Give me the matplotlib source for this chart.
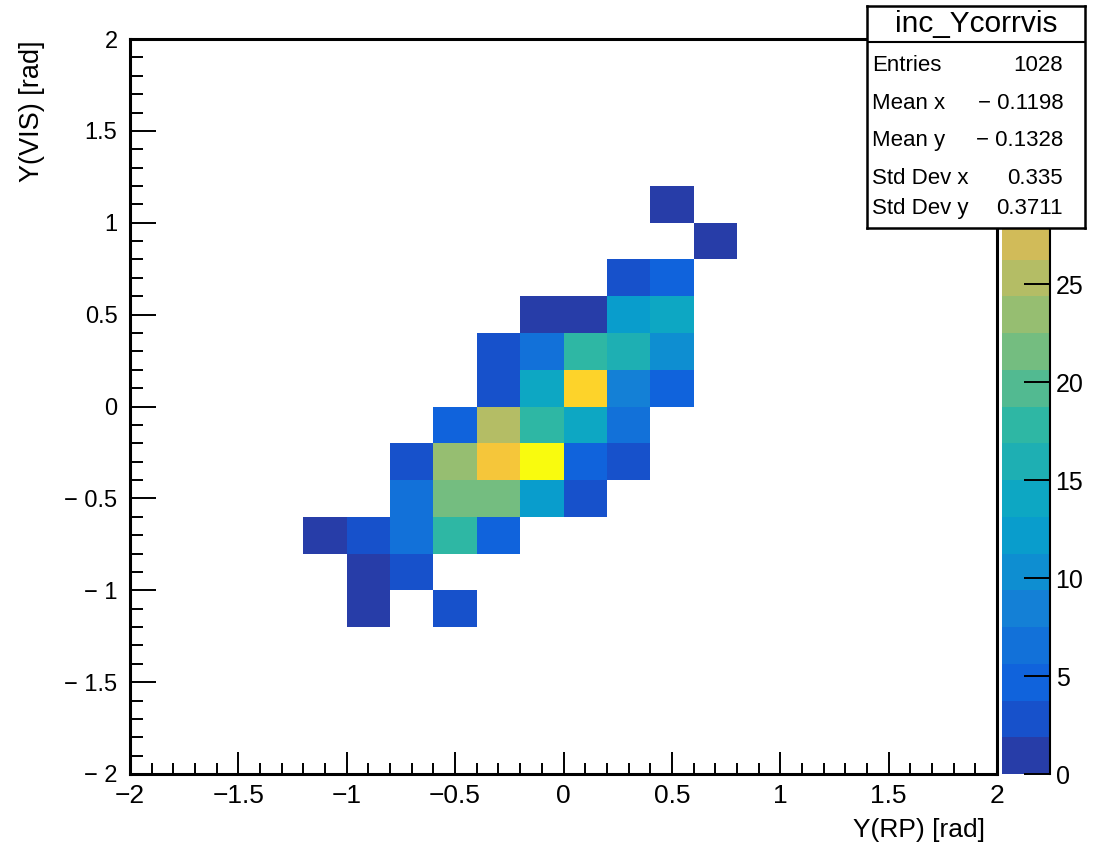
import numpy as np
import matplotlib
matplotlib.use("Agg")
import matplotlib.pyplot as plt
from matplotlib.colors import LinearSegmentedColormap, ListedColormap, BoundaryNorm
from matplotlib.ticker import MultipleLocator, FuncFormatter

plt.rcParams['font.family'] = ['Liberation Sans', 'DejaVu Sans']

# histogram binning: 20 x 20 bins on [-2, 2]
n_bins = 20
axis_lo = -2.0
axis_hi = 2.0

# filled part of the histogram, rows from y=-1.2 upwards, columns from x=-1.2
block_x0 = -1.2
block_y0 = -1.2
counts = [
    [0, 1, 0, 3, 0, 0, 0, 0, 0, 0],
    [0, 1, 3, 0, 0, 0, 0, 0, 0, 0],
    [1, 3, 7, 18, 5, 0, 0, 0, 0, 0],
    [0, 0, 7, 22, 22, 12, 3, 0, 0, 0],
    [0, 0, 3, 24, 31, 37, 5, 3, 0, 0],
    [0, 0, 0, 5, 25, 18, 14, 7, 0, 0],
    [0, 0, 0, 0, 3, 14, 33, 9, 5, 0],
    [0, 0, 0, 0, 3, 7, 18, 16, 10, 0],
    [0, 0, 0, 0, 0, 1, 1, 12, 14, 0],
    [0, 0, 0, 0, 0, 0, 0, 3, 5, 0],
    [0, 0, 0, 0, 0, 0, 0, 0, 0, 1],
    [0, 0, 0, 0, 0, 0, 0, 0, 1, 0],
]
z_max = 37.5
n_contours = 20
# palette labels below the stats box
z_ticks = [0, 5, 10, 15, 20, 25]

hist_name = "inc_Ycorrvis"
stat_labels = ["Entries", "Mean x", "Mean y", "Std Dev x", "Std Dev y"]
stat_values = ["1028", "\u2212 0.1198", "\u2212 0.1328", "0.335", "0.3711"]

x_title = "Y(RP) [rad]"
y_title = "Y(VIS) [rad]"

# ROOT kBird palette
bird_stops = [0.0, 0.125, 0.25, 0.375, 0.5, 0.625, 0.75, 0.875, 1.0]
bird_r = [0.2082, 0.0592, 0.0780, 0.0232, 0.1802, 0.5301, 0.8186, 0.9956, 0.9764]
bird_g = [0.1664, 0.3599, 0.5041, 0.6419, 0.7178, 0.7492, 0.7328, 0.7862, 0.9832]
bird_b = [0.5293, 0.8684, 0.8385, 0.7914, 0.6425, 0.4662, 0.3499, 0.1968, 0.0539]
bird = LinearSegmentedColormap.from_list(
    "bird", list(zip(bird_stops, zip(bird_r, bird_g, bird_b))), N=255)
# one colour per contour level, picked the way THistPainter does it
level_colors = [bird(int((k + 0.99) * 255 / n_contours) / 254) for k in range(n_contours)]
cmap = ListedColormap(level_colors)
norm = BoundaryNorm(np.linspace(0, z_max, n_contours + 1), n_contours)

# put the filled block into the full histogram
bin_w = (axis_hi - axis_lo) / n_bins
edges = np.linspace(axis_lo, axis_hi, n_bins + 1)
H = np.zeros((n_bins, n_bins))
i0 = int(round((block_y0 - axis_lo) / bin_w))
j0 = int(round((block_x0 - axis_lo) / bin_w))
block = np.array(counts, dtype=float)
H[i0:i0 + block.shape[0], j0:j0 + block.shape[1]] = block
H = np.ma.masked_where(H <= 0, H)

W, Hpx = 1107, 850
fig = plt.figure(figsize=(W / 100, Hpx / 100), dpi=100)
fig.patch.set_facecolor("white")

ax = fig.add_axes([130 / W, 76 / Hpx, 867 / W, 735 / Hpx])
mesh = ax.pcolormesh(edges, edges, H, cmap=cmap, norm=norm,
                     linewidth=0, antialiased=False)
ax.set_xlim(axis_lo, axis_hi)
ax.set_ylim(axis_lo, axis_hi)

for a in (ax.xaxis, ax.yaxis):
    a.set_major_locator(MultipleLocator(0.5))
    a.set_minor_locator(MultipleLocator(0.1))

def fmt_x(v, pos):
    return ("%g" % v).replace("-", "\u2212")

def fmt_y(v, pos):
    return ("%g" % v).replace("-", "\u2212 ")

ax.xaxis.set_major_formatter(FuncFormatter(fmt_x))
ax.yaxis.set_major_formatter(FuncFormatter(fmt_y))

ax.tick_params(axis="x", which="major", direction="in", length=16, width=1.4,
               labelsize=19, pad=7, top=False)
ax.tick_params(axis="x", which="minor", direction="in", length=8, width=1.4, top=False)
ax.tick_params(axis="y", which="major", direction="in", length=19, width=1.4,
               labelsize=17, pad=9, right=False)
ax.tick_params(axis="y", which="minor", direction="in", length=9.5, width=1.4, right=False)
for s in ax.spines.values():
    s.set_linewidth(2.2)

fig.text(985 / W, 1 - 830 / Hpx, x_title, ha="right", va="center", fontsize=19)
fig.text(32 / W, 1 - 40 / Hpx, y_title, rotation=90, ha="center", va="top", fontsize=19.5)

# palette axis
cax = fig.add_axes([1002 / W, 76 / Hpx, 48 / W, 735 / Hpx])
cb = fig.colorbar(mesh, cax=cax, ticks=z_ticks)
cb.outline.set_visible(False)
cax.tick_params(direction="in", length=19, width=1.4, labelsize=18, pad=4,
                right=True, left=False)
cax.minorticks_off()
cax.plot([1, 1], [0, 1], transform=cax.transAxes, color="black", lw=1.5,
         clip_on=False)

# stats box
sax = fig.add_axes([867 / W, 1 - 228 / Hpx, 218 / W, 222 / Hpx])
sax.set_xlim(0, 1)
sax.set_ylim(0, 1)
sax.set_xticks([])
sax.set_yticks([])
sax.set_facecolor("white")
for s in sax.spines.values():
    s.set_linewidth(1.8)
sax.axhline(0.838, color="black", lw=1.5)
sax.text(0.5, 0.92, hist_name, ha="center", va="center", fontsize=21.5)
row_y = [0.734, 0.563, 0.396, 0.225, 0.09]
for lab, val, yy in zip(stat_labels, stat_values, row_y):
    sax.text(0.023, yy, lab, ha="left", va="center", fontsize=16)
    sax.text(0.9, yy, val, ha="right", va="center", fontsize=16)

fig.savefig("out.png", dpi=100)
